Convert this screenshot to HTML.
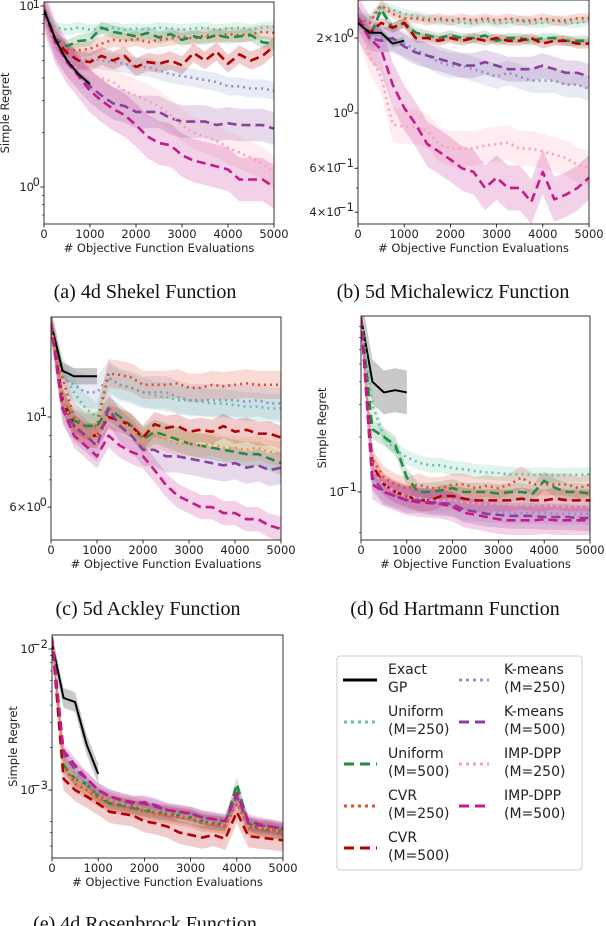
<!DOCTYPE html>
<html><head><meta charset="utf-8"><style>
html,body{margin:0;padding:0;background:#fff;}
svg{display:block;}
.tk{font-family:"DejaVu Sans","Liberation Sans",sans-serif;font-size:11.5px;fill:#222;}
.cap{font-family:"Liberation Serif",serif;font-size:20px;fill:#111;}
.lg{font-family:"DejaVu Sans","Liberation Sans",sans-serif;font-size:14px;fill:#222;}
</style></head><body>
<svg id="fig" width="606" height="926" viewBox="0 0 606 926" xmlns="http://www.w3.org/2000/svg">
<defs id="defs"></defs>
<g id="panels"></g>
<text class="cap" x="145" y="298" text-anchor="middle">(a) 4d Shekel Function</text>
<text class="cap" x="453" y="298" text-anchor="middle">(b) 5d Michalewicz Function</text>
<text class="cap" x="148" y="615" text-anchor="middle">(c) 5d Ackley Function</text>
<text class="cap" x="455" y="615" text-anchor="middle">(d) 6d Hartmann Function</text>
<text class="cap" x="145" y="930" text-anchor="middle">(e) 4d Rosenbrock Function</text>
<g>
<rect x="337" y="656" width="245" height="214" rx="3" fill="#fff" stroke="#ccc" stroke-width="1"/>
<g><line x1="343" y1="680" x2="377" y2="680" stroke="#000" stroke-width="3"/><text class="lg" x="388" y="674">Exact</text><text class="lg" x="388" y="692">GP</text></g>
<g><line x1="344" y1="722" x2="377" y2="722" stroke="#66c2a5" stroke-width="3" stroke-dasharray="3,4"/><text class="lg" x="388" y="716">Uniform</text><text class="lg" x="388" y="734">(M=250)</text></g>
<g><line x1="344" y1="764" x2="377" y2="764" stroke="#238b45" stroke-width="3" stroke-dasharray="10,6"/><text class="lg" x="388" y="758">Uniform</text><text class="lg" x="388" y="776">(M=500)</text></g>
<g><line x1="344" y1="806" x2="377" y2="806" stroke="#e34a33" stroke-width="3" stroke-dasharray="3,4"/><text class="lg" x="388" y="800">CVR</text><text class="lg" x="388" y="818">(M=250)</text></g>
<g><line x1="344" y1="848" x2="377" y2="848" stroke="#b30000" stroke-width="3" stroke-dasharray="10,6"/><text class="lg" x="388" y="842">CVR</text><text class="lg" x="388" y="860">(M=500)</text></g>
<g><line x1="459" y1="680" x2="489" y2="680" stroke="#8c96c6" stroke-width="3" stroke-dasharray="3,4"/><text class="lg" x="504" y="674">K-means</text><text class="lg" x="504" y="692">(M=250)</text></g>
<g><line x1="459" y1="722" x2="489" y2="722" stroke="#88419d" stroke-width="3" stroke-dasharray="10,6"/><text class="lg" x="504" y="716">K-means</text><text class="lg" x="504" y="734">(M=500)</text></g>
<g><line x1="459" y1="764" x2="489" y2="764" stroke="#fa9fb5" stroke-width="3" stroke-dasharray="3,4"/><text class="lg" x="504" y="758">IMP-DPP</text><text class="lg" x="504" y="776">(M=250)</text></g>
<g><line x1="459" y1="806" x2="489" y2="806" stroke="#c51b8a" stroke-width="3" stroke-dasharray="10,6"/><text class="lg" x="504" y="800">IMP-DPP</text><text class="lg" x="504" y="818">(M=500)</text></g>
</g>
</svg>
<script>
const xTicks=[0,1000,2000,3000,4000,5000];
const xStep=250;
// ---- Panel A: Shekel
const a_exact=[9.5,6.5,5.0,4.2,3.7];
const a_u250=[9.5,7.6,7.4,7.6,7.4,7.5,7.6,7.4,7.5,7.4,7.6,7.5,7.4,7.5,7.6,7.4,7.5,7.6,7.4,7.6,7.7];
const a_u500=[9.5,6.6,6.0,6.4,6.5,7.6,7.2,7.0,6.8,7.1,6.7,7.0,6.5,6.8,6.6,6.9,6.7,6.8,6.9,6.3,6.2];
const a_c250=[9.5,6.3,5.7,5.7,5.8,6.2,6.5,6.4,6.6,6.3,6.5,6.6,6.8,6.6,6.9,6.8,7.0,6.9,7.0,7.2,7.1];
const a_c500=[9.5,6.5,5.5,5.0,4.9,5.3,5.0,5.3,4.6,4.9,4.8,5.0,4.7,5.5,5.0,5.6,4.8,5.4,5.0,5.3,6.0];
const a_k250=[9.5,6.0,5.2,5.0,5.1,5.0,4.9,4.8,4.6,4.6,4.4,4.2,4.1,4.0,3.9,3.8,3.6,3.6,3.5,3.5,3.4];
const a_k500=[9.5,6.3,5.0,4.2,3.6,3.2,2.9,2.8,2.6,2.6,2.6,2.4,2.3,2.3,2.3,2.2,2.25,2.2,2.2,2.2,2.1];
const a_i250=[9.5,6.1,5.0,4.4,4.2,4.0,3.8,3.4,3.2,3.0,2.8,2.5,2.2,2.0,1.9,1.8,1.65,1.55,1.45,1.35,1.2];
const a_i500=[9.5,6.3,4.9,4.1,3.4,3.0,2.7,2.5,2.2,1.9,1.75,1.7,1.5,1.4,1.35,1.3,1.25,1.1,1.1,1.1,1.0];
// ---- Panel B: Michalewicz
const b_exact=[2.3,2.1,2.1,1.9,1.95];
const b_u250=[2.4,2.4,2.7,2.6,2.5,2.45,2.4,2.35,2.35,2.3,2.3,2.35,2.3,2.3,2.35,2.3,2.3,2.35,2.3,2.3,2.35];
const b_u500=[2.4,2.0,2.6,2.2,2.3,2.1,2.05,2.0,2.05,2.0,2.0,2.05,1.95,2.0,2.0,1.95,2.0,2.0,1.95,1.95,1.95];
const b_c250=[2.4,2.3,2.7,2.5,2.4,2.4,2.35,2.4,2.35,2.4,2.35,2.4,2.35,2.4,2.35,2.35,2.4,2.35,2.35,2.4,2.4];
const b_c500=[2.4,2.1,2.3,2.2,2.3,2.0,2.0,1.95,2.0,1.95,2.0,1.95,2.0,1.95,1.95,2.0,1.9,1.95,1.95,1.9,1.9];
const b_k250=[2.4,2.1,2.0,1.95,1.9,1.8,1.7,1.6,1.55,1.55,1.5,1.45,1.4,1.45,1.4,1.35,1.35,1.35,1.3,1.3,1.25];
const b_k500=[2.4,2.0,1.95,2.0,1.85,1.75,1.7,1.65,1.6,1.55,1.55,1.6,1.55,1.5,1.5,1.5,1.55,1.5,1.45,1.45,1.4];
const b_i250=[2.4,1.7,1.4,0.9,0.88,0.88,0.85,0.75,0.72,0.72,0.72,0.74,0.75,0.76,0.72,0.72,0.7,0.68,0.66,0.62,0.6];
const b_i500=[2.4,2.0,1.8,1.3,1.05,0.9,0.75,0.7,0.65,0.6,0.58,0.5,0.55,0.5,0.5,0.44,0.58,0.45,0.47,0.5,0.55];
// ---- Panel C: Ackley
const c_exact=[17,13,12.6,12.6,12.6];
const c_u250=[17,13,11.5,10.5,10,12.5,12,11.8,11.5,11.3,11.2,11,11,10.9,10.8,10.8,10.7,10.6,10.6,10.5,10.5];
const c_u500=[17,11,9.8,9.5,9.5,10.5,10,9.5,8.8,9.2,9,8.8,8.6,8.5,8.4,8.3,8.2,8.1,8.1,7.9,7.7];
const c_c250=[17,12.5,10,9.5,9.5,12.8,12.7,12.5,12,12,12,12.1,11.8,11.8,12,11.9,12,12.1,12,12,12];
const c_c500=[17,11,9.5,9,9,10,9.8,9.5,8.9,9.6,9.4,9.5,9.2,9.3,9.2,9.5,9.2,9.3,9.1,9.1,8.9];
const c_k250=[17,12.5,12,11.5,11.5,12.5,12,11.8,11.5,11.5,11.5,11.2,11,11,11,11,11,10.9,11,10.8,10.8];
const c_k500=[17,10.5,9.5,9,8.5,10.5,9.5,9,8.3,8.3,8.0,8.0,7.9,7.8,7.7,7.6,7.7,7.5,7.6,7.4,7.5];
const c_i250=[17,11,9.5,9,9,10.5,9.8,9.4,8.7,9.0,8.8,8.6,8.6,8.5,8.6,8.4,8.4,8.3,8.4,8.2,8.1];
const c_i500=[17,10.5,9,8.5,8.0,9.0,8.5,8.2,8.0,7.4,6.8,6.4,6.2,6.0,6.0,5.8,5.8,5.6,5.6,5.4,5.3];
// ---- Panel D: Hartmann
const d_exact=[0.9,0.4,0.35,0.36,0.35];
const d_u250=[0.9,0.3,0.2,0.17,0.155,0.145,0.14,0.14,0.135,0.133,0.13,0.128,0.127,0.125,0.125,0.124,0.125,0.123,0.124,0.124,0.125];
const d_u500=[0.9,0.22,0.2,0.18,0.12,0.1,0.1,0.102,0.105,0.1,0.1,0.1,0.098,0.1,0.1,0.098,0.115,0.105,0.1,0.1,0.098];
const d_c250=[0.9,0.15,0.12,0.11,0.105,0.11,0.105,0.105,0.11,0.11,0.105,0.108,0.105,0.11,0.12,0.11,0.11,0.11,0.11,0.105,0.11];
const d_c500=[0.9,0.14,0.11,0.1,0.095,0.09,0.09,0.095,0.095,0.092,0.09,0.09,0.09,0.09,0.092,0.09,0.09,0.092,0.09,0.09,0.09];
const d_k250=[0.9,0.12,0.1,0.095,0.092,0.09,0.088,0.087,0.085,0.08,0.08,0.078,0.078,0.077,0.077,0.077,0.077,0.076,0.076,0.076,0.076];
const d_k500=[0.9,0.12,0.1,0.095,0.09,0.09,0.088,0.087,0.086,0.08,0.078,0.076,0.075,0.074,0.074,0.074,0.073,0.073,0.073,0.072,0.072];
const d_i250=[0.9,0.13,0.11,0.1,0.095,0.093,0.09,0.09,0.09,0.088,0.087,0.086,0.086,0.085,0.085,0.084,0.084,0.084,0.083,0.083,0.083];
const d_i500=[0.9,0.11,0.1,0.095,0.09,0.088,0.087,0.086,0.083,0.077,0.075,0.073,0.071,0.07,0.07,0.07,0.071,0.07,0.07,0.07,0.07];
// ---- Panel E: Rosenbrock
const e_exact=[0.011,0.0045,0.0042,0.0021,0.0013];
const e_u250=[0.012,0.0016,0.0012,0.001,0.00092,0.00082,0.0008,0.00076,0.00073,0.0007,0.00069,0.00066,0.00065,0.0006,0.00059,0.00057,0.0009,0.00056,0.00054,0.00053,0.0005];
const e_u500=[0.012,0.0015,0.0012,0.0011,0.0009,0.0008,0.00078,0.00075,0.00072,0.0007,0.00068,0.00066,0.00064,0.0006,0.00058,0.00057,0.0011,0.00058,0.00053,0.00052,0.0005];
const e_c250=[0.012,0.0015,0.0011,0.001,0.00088,0.0008,0.00076,0.00074,0.0007,0.00068,0.00066,0.00064,0.00062,0.00058,0.00057,0.00056,0.0008,0.00055,0.00053,0.00052,0.0005];
const e_c500=[0.012,0.0012,0.001,0.0009,0.0008,0.0007,0.00068,0.00066,0.0006,0.00058,0.00055,0.0005,0.00048,0.00046,0.00048,0.00045,0.0007,0.00047,0.00046,0.00045,0.00044];
const e_k250=[0.012,0.0016,0.0013,0.0011,0.00095,0.00085,0.0008,0.00077,0.00075,0.00072,0.0007,0.00068,0.00066,0.00062,0.0006,0.00058,0.00085,0.00057,0.00055,0.00054,0.00052];
const e_k500=[0.012,0.0018,0.0014,0.0012,0.001,0.0009,0.00085,0.0008,0.00082,0.00078,0.00072,0.0007,0.00068,0.00064,0.00062,0.0006,0.0009,0.00058,0.00056,0.00055,0.00053];
const e_i250=[0.012,0.0017,0.0012,0.001,0.0009,0.00085,0.0008,0.00078,0.00074,0.0007,0.00068,0.00066,0.00064,0.0006,0.00058,0.00056,0.0009,0.00055,0.00054,0.00052,0.0005];
const e_i500=[0.012,0.0019,0.0015,0.0012,0.001,0.0009,0.00085,0.00082,0.0008,0.00076,0.00072,0.0007,0.00068,0.00064,0.00062,0.0006,0.00095,0.0006,0.00057,0.00055,0.00053];

const COL={exact:'#000',u250:'#66c2a5',u500:'#238b45',c250:'#e34a33',c500:'#b30000',k250:'#8c96c6',k500:'#88419d',i250:'#fa9fb5',i500:'#c51b8a',orange:'#fd8d3c'};
const DOT='2,4', DASH='9,5';
const panels=[
 {id:'a',x0:44,x1:274,y0:2,y1:224,refY:187,refV:1,dec:181,ylab:true,
  yt:[[10,'10','1'],[1,'10','0']],minor:[2,3,4,5,6,7,8,9,0.7,0.8,0.9],
  s:[['k250',a_k250,0.05],['c250',a_c250,0.04],['u250',a_u250,0.03],['u500',a_u500,0.035],['c500',a_c500,0.05],['k500',a_k500,0.09],['i250',a_i250,0.09],['i500',a_i500,0.12],['exact',a_exact,0.02]]},
 {id:'b',x0:358,x1:589,y0:0,y1:224,refY:113,refV:1,dec:249,ylab:false,
  yt:[[2,'2\u00d710','0'],[1,'10','0'],[0.6,'6\u00d710','\u22121'],[0.4,'4\u00d710','\u22121']],minor:[3,0.5],
  s:[['u250',b_u250,0.02],['c250',b_c250,0.02],['u500',b_u500,0.02],['c500',b_c500,0.02],['k250',b_k250,0.05],['k500',b_k500,0.05],['i250',b_i250,0.07],['i500',b_i500,0.09],['exact',b_exact,0.015]]},
 {id:'c',x0:51,x1:281,y0:317,y1:540,refY:417,refV:10,dec:406,ylab:false,
  yt:[[10,'10','1'],[6,'6\u00d710','0']],minor:[7,8,9,20],
  s:[['u250',c_u250,0.035],['k250',c_k250,0.04],['c250',c_c250,0.035],['exact',c_exact,0.02],['u500',c_u500,0.03],['c500',c_c500,0.03],['orange',c_i250,0.03],['k500',c_k500,0.04],['i500',c_i500,0.03]]},
 {id:'d',x0:361,x1:590,y0:316,y1:540,refY:492,refV:0.1,dec:183,ylab:true,
  yt:[[0.1,'10','\u22121']],minor:[0.06,0.2,0.3,0.4,0.5,0.6,0.7,0.8],
  s:[['exact',d_exact,0.12],['u250',d_u250,0.04],['u500',d_u500,0.05],['c250',d_c250,0.06],['c500',d_c500,0.06],['k250',d_k250,0.06],['i250',d_i250,0.06],['k500',d_k500,0.07],['i500',d_i500,0.08]]},
 {id:'e',x0:52,x1:283,y0:635,y1:858,refY:790,refV:0.001,dec:141,ylab:true,
  yt:[[0.01,'10','\u22122'],[0.001,'10','\u22123']],minor:[0.0004,0.0005,0.0006,0.002,0.003,0.004,0.005,0.006,0.007,0.008,0.009],
  s:[['exact',e_exact,0.07],['u250',e_u250,0.05],['u500',e_u500,0.05],['c250',e_c250,0.06],['k250',e_k250,0.05],['orange',e_i250,0.06],['c500',e_c500,0.08],['k500',e_k500,0.05],['i500',e_i500,0.05]]}
];
const NS='http://www.w3.org/2000/svg';
const root=document.getElementById('panels');
const defs=document.getElementById('defs');
function mk(tag,attrs,parent){const e=document.createElementNS(NS,tag);for(const k in attrs)e.setAttribute(k,attrs[k]);parent.appendChild(e);return e;}
panels.forEach(p=>{
  const X=v=>p.x0+(p.x1-p.x0)*v/5000;
  const Y=v=>p.refY-p.dec*Math.log10(v/p.refV);
  const g=mk('g',{},root);
  
  
  const cp=mk('clipPath',{id:'clip'+p.id},defs);
  mk('rect',{x:p.x0,y:p.y0,width:p.x1-p.x0,height:p.y1-p.y0},cp);
  const plot=mk('g',{'clip-path':'url(#clip'+p.id+')'},g);
  
  
  p.s.forEach(([key,vals,bw])=>{
    const up=vals.map((v,i)=>X(i*xStep)+','+Y(v*Math.pow(10,bw)));
    const lo=vals.map((v,i)=>X(i*xStep)+','+Y(v*Math.pow(10,-bw))).reverse();
    const poly=mk('polygon',{points:up.concat(lo).join(' '),fill:key==='exact'?'#888':COL[key],'fill-opacity':key==='exact'?0.45:0.2},plot);
    
    
  });
  p.s.forEach(([key,vals])=>{
    const pts=vals.map((v,i)=>X(i*xStep)+','+Y(v)).join(' ');
    const dash=key==='exact'?'none':(/250|orange/.test(key)?DOT:DASH);
    const ln=mk('polyline',{points:pts,fill:'none',stroke:COL[key],'stroke-width':key==='exact'?2:2.6,'stroke-dasharray':dash,'stroke-linejoin':'round'},plot);
    
    
  });
  const fr=mk('rect',{x:p.x0,y:p.y0,width:p.x1-p.x0,height:p.y1-p.y0,fill:'none',stroke:'#000','stroke-width':0.8},g);
  
  
  xTicks.forEach(t=>{
    mk('line',{x1:X(t),x2:X(t),y1:p.y1,y2:p.y1+3.5,stroke:'#000','stroke-width':0.8},g);
    const tx=mk('text',{x:X(t),y:p.y1+14,'text-anchor':'middle',class:'tk'},g);
    tx.textContent=t;
    
    
  });
  const xl=mk('text',{x:(p.x0+p.x1)/2,y:p.y1+28,'text-anchor':'middle',class:'tk'},g);
  xl.textContent='# Objective Function Evaluations';
  
  
  p.minor.forEach(v=>{const yy=Y(v);if(yy>p.y0&&yy<p.y1)mk('line',{x1:p.x0-2,x2:p.x0,y1:yy,y2:yy,stroke:'#000','stroke-width':0.6},g);});
  p.yt.forEach(([v,base,exp])=>{
    const yy=Y(v);
    mk('line',{x1:p.x0-3.5,x2:p.x0,y1:yy,y2:yy,stroke:'#000','stroke-width':0.8},g);
    const t=mk('text',{x:p.x0-5-(exp.length>1?12:5),y:yy+4,'text-anchor':'end',class:'tk'},g);
    t.textContent=base;
    
    
    const s=mk('text',{x:p.x0-4,y:Math.max(yy-1,8),'text-anchor':'end',class:'tk','font-size':'8px'},g);
    s.textContent=exp;
  });
  if(p.ylab){
    const cy=(p.y0+p.y1)/2, cx=p.x0-35;
    const yl=mk('text',{x:cx,y:cy,'text-anchor':'middle',class:'tk',transform:'rotate(-90 '+cx+' '+cy+')'},g);
    yl.textContent='Simple Regret';
    
    
  }
});
</script>
</body></html>
